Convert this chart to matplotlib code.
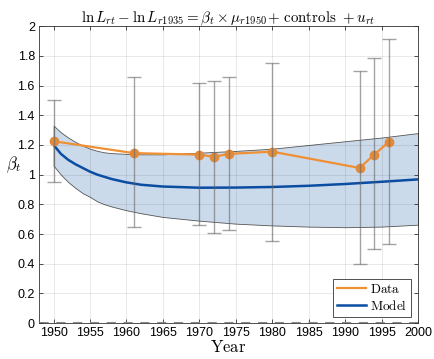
import numpy as np
import matplotlib
matplotlib.use("Agg")
from matplotlib import pyplot as plt

# data
years = [1950, 1961, 1970, 1972, 1974, 1980, 1992, 1994, 1996]
beta = [1.225, 1.145, 1.135, 1.12, 1.14, 1.155, 1.045, 1.135, 1.22]
ci_hi = [1.50, 1.655, 1.615, 1.63, 1.655, 1.755, 1.695, 1.785, 1.915]
ci_lo = [0.95, 0.645, 0.66, 0.61, 0.625, 0.555, 0.40, 0.50, 0.535]

model_years = [1950, 1951, 1952, 1953, 1954, 1955, 1956, 1957, 1958, 1960,
               1962, 1965, 1970, 1975, 1980, 1985, 1990, 1995, 2000]
model = [1.20, 1.14, 1.10, 1.07, 1.045, 1.02, 1.00, 0.985, 0.97, 0.948,
         0.932, 0.92, 0.912, 0.913, 0.917, 0.925, 0.937, 0.952, 0.968]
band_hi = [1.33, 1.285, 1.25, 1.22, 1.195, 1.175, 1.16, 1.15, 1.145, 1.14,
           1.137, 1.137, 1.148, 1.16, 1.175, 1.20, 1.225, 1.25, 1.28]
band_lo = [1.06, 1.00, 0.95, 0.91, 0.875, 0.85, 0.82, 0.80, 0.785, 0.76,
           0.74, 0.715, 0.69, 0.67, 0.658, 0.65, 0.646, 0.65, 0.663]

xticks = list(range(1950, 2001, 5))
yticks = [0, 0.2, 0.4, 0.6, 0.8, 1, 1.2, 1.4, 1.6, 1.8, 2]

plt.rcParams['mathtext.fontset'] = 'cm'
plt.rcParams['font.family'] = ['Liberation Sans', 'DejaVu Sans']

fig = plt.figure(figsize=(4.34, 3.59), dpi=100)
ax = fig.add_axes([0.09, 0.1, 0.873, 0.827])

ax.fill_between(model_years, band_lo, band_hi, facecolor='#cbdaeb',
                edgecolor='#555555', lw=0.6, zorder=1)
ax.plot(model_years, model, color='#0a4da2', lw=1.8, zorder=3, label=r'$\mathrm{Model}$')
ax.plot(years, beta, color='#f09035', lw=1.6, marker='o', ms=6,
        mfc='#e08a3c', mec='#e08a3c', zorder=4, label=r'$\mathrm{Data}$')

err = [np.array(beta) - np.array(ci_lo), np.array(ci_hi) - np.array(beta)]
ax.errorbar(years, beta, yerr=err, fmt='none', ecolor='#666666', alpha=0.6,
            elinewidth=1.0, capsize=5, capthick=1.0, zorder=5)

ax.axhline(0, color='#888888', lw=2.2, ls=(0, (3, 2.5)), zorder=6)

ax.set_xlim(1948, 2000)
ax.set_ylim(0, 2)
ax.set_xticks(xticks)
ax.set_yticks(yticks)
ax.set_yticklabels(['0', '0.2', '0.4', '0.6', '0.8', '1', '1.2', '1.4', '1.6', '1.8', '2'])
ax.tick_params(direction='in', length=3, width=0.6, labelsize=9, color='#333333',
               top=True, right=True, pad=3)
ax.grid(True, color='#000000', alpha=0.1, lw=0.6)
for s in ax.spines.values():
    s.set_color('#333333')
    s.set_linewidth(0.6)

ax.set_title(r'$\ln L_{rt} - \ln L_{r1935} = \beta_t \times \mu_{r1950}\!+\,\mathrm{controls}\ +u_{rt}$',
             fontsize=10.8, pad=3)
ax.set_xlabel(r'$\mathrm{Year}$', fontsize=12, labelpad=0)
ax.set_ylabel(r'$\beta_t$', fontsize=12, rotation=0)
ax.yaxis.set_label_coords(-0.068, 0.5)

handles, labels = ax.get_legend_handles_labels()
leg = ax.legend(handles[::-1], labels[::-1], loc='lower right', fontsize=9.5,
                fancybox=False, edgecolor='#333333', framealpha=1,
                handlelength=2.2, borderpad=0.3, labelspacing=0.2,
                handletextpad=0.3, borderaxespad=0.5)
leg.get_frame().set_linewidth(0.6)
for h in leg.legend_handles:
    h.set_marker('')

fig.savefig('out.png', dpi=100)
